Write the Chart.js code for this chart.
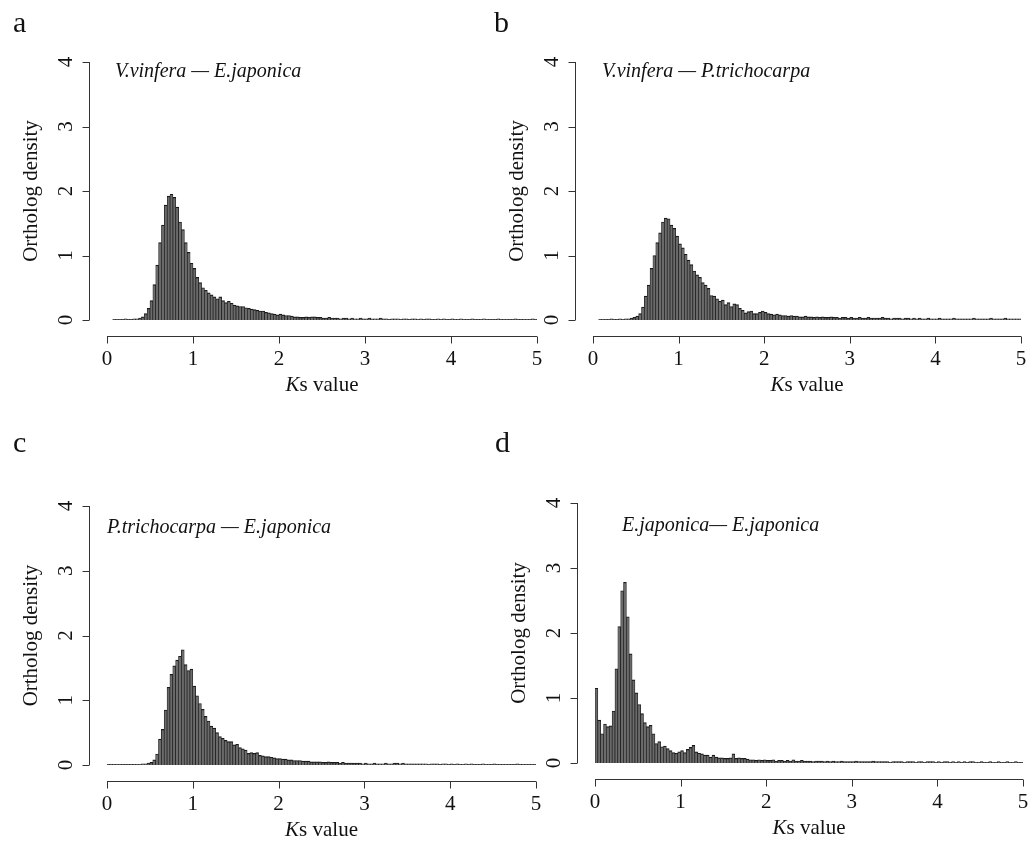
<!DOCTYPE html>
<html>
<head>
<meta charset="utf-8">
<script src="https://cdn.jsdelivr.net/npm/chart.js@4/dist/chart.umd.min.js"></script>
<style>
  body { margin: 0; background: #fff; }
  #wrap { position: relative; width: 1034px; height: 847px; }
  canvas { position: absolute; left: 0; top: 0; }
</style>
</head>
<body>
<div id="wrap">
  <canvas id="pa" width="1034" height="847"></canvas>
  <canvas id="pb" width="1034" height="847"></canvas>
  <canvas id="pc" width="1034" height="847"></canvas>
  <canvas id="pd" width="1034" height="847"></canvas>
</div>
<script>
// histogram bins: 150 bins of width 1/30 from Ks = 0 to 5
const binStart = 0;
const binWidth = 1 / 30;
const xTicks = [0, 1, 2, 3, 4, 5];
const yTicks = [0, 1, 2, 3, 4];

// a: V.vinfera vs E.japonica
const vvEj = [
  0, 0, 0.01, 0.01, 0.01, 0.01, 0.02, 0.01, 0.01, 0.02,
  0.02, 0.03, 0.05, 0.1, 0.18, 0.3, 0.55, 0.85, 1.2, 1.47,
  1.78, 1.92, 1.95, 1.9, 1.75, 1.52, 1.4, 1.2, 1.05, 0.88,
  0.8, 0.66, 0.58, 0.5, 0.46, 0.42, 0.39, 0.36, 0.33, 0.36,
  0.3, 0.27, 0.29, 0.26, 0.23, 0.22, 0.21, 0.21, 0.19, 0.18,
  0.17, 0.16, 0.15, 0.14, 0.14, 0.12, 0.11, 0.1, 0.09, 0.08,
  0.09, 0.08, 0.07, 0.07, 0.06, 0.05, 0.05, 0.04, 0.04, 0.05,
  0.04, 0.05, 0.05, 0.04, 0.04, 0.03, 0.03, 0.04, 0.03, 0.03,
  0.03, 0.02, 0.03, 0.03, 0.02, 0.03, 0.02, 0.02, 0.03, 0.02,
  0.02, 0.03, 0.02, 0.02, 0.02, 0.03, 0.02, 0.02, 0.01, 0.02,
  0.02, 0.02, 0.01, 0.02, 0.02, 0.01, 0.02, 0.02, 0.01, 0.02,
  0.01, 0.02, 0.02, 0.01, 0.01, 0.02, 0.01, 0.02, 0.01, 0.01,
  0.02, 0.01, 0.01, 0.02, 0.01, 0.01, 0.01, 0.02, 0.01, 0.01,
  0.01, 0.02, 0.01, 0.01, 0.01, 0.01, 0.02, 0.01, 0.01, 0.01,
  0.01, 0.01, 0.02, 0.01, 0.01, 0.01, 0.01, 0.01, 0.02, 0.01
];

// b: V.vinfera vs P.trichocarpa
const vvPt = [
  0, 0, 0.01, 0.01, 0.01, 0.01, 0.02, 0.01, 0.01, 0.02,
  0.01, 0.02, 0.02, 0.03, 0.04, 0.06, 0.1, 0.2, 0.37, 0.54,
  0.8, 1.0, 1.2, 1.35, 1.52, 1.58, 1.57, 1.47, 1.42, 1.3,
  1.18, 1.12, 1.02, 0.93, 0.86, 0.76, 0.7, 0.66, 0.58, 0.54,
  0.49, 0.38, 0.37, 0.33, 0.29, 0.31, 0.24, 0.27, 0.21, 0.25,
  0.24, 0.18, 0.15, 0.11, 0.13, 0.14, 0.1, 0.1, 0.12, 0.14,
  0.12, 0.1, 0.09, 0.08, 0.09, 0.08, 0.07, 0.07, 0.06, 0.07,
  0.06, 0.06, 0.05, 0.05, 0.06, 0.05, 0.05, 0.04, 0.05, 0.04,
  0.05, 0.04, 0.04, 0.05, 0.04, 0.04, 0.03, 0.04, 0.04, 0.03,
  0.04, 0.03, 0.03, 0.04, 0.03, 0.03, 0.04, 0.03, 0.03, 0.03,
  0.03, 0.04, 0.03, 0.03, 0.02, 0.03, 0.03, 0.03, 0.02, 0.03,
  0.03, 0.02, 0.03, 0.02, 0.03, 0.02, 0.02, 0.03, 0.02, 0.02,
  0.02, 0.03, 0.02, 0.02, 0.02, 0.02, 0.03, 0.02, 0.02, 0.02,
  0.02, 0.02, 0.02, 0.03, 0.02, 0.02, 0.02, 0.02, 0.02, 0.03,
  0.02, 0.02, 0.02, 0.02, 0.03, 0.02, 0.02, 0.02, 0.02, 0.02
];

// c: P.trichocarpa vs E.japonica
const ptEj = [
  0.01, 0.01, 0.01, 0.01, 0.01, 0.01, 0.01, 0.01, 0.01, 0.01,
  0.01, 0.01, 0.02, 0.02, 0.03, 0.04, 0.08, 0.17, 0.4, 0.55,
  0.85, 1.2, 1.4, 1.53, 1.62, 1.68, 1.78, 1.55, 1.46, 1.48,
  1.22, 1.07, 0.95, 0.86, 0.75, 0.68, 0.6, 0.57, 0.5, 0.44,
  0.41, 0.38, 0.36, 0.36, 0.31, 0.32, 0.27, 0.25, 0.23, 0.18,
  0.19, 0.18, 0.19, 0.15, 0.14, 0.13, 0.13, 0.12, 0.11, 0.1,
  0.1, 0.09, 0.09, 0.08, 0.08, 0.07, 0.07, 0.07, 0.06, 0.06,
  0.06, 0.05, 0.05, 0.05, 0.05, 0.04, 0.04, 0.05, 0.04, 0.04,
  0.04, 0.03, 0.04, 0.03, 0.03, 0.03, 0.03, 0.03, 0.03, 0.02,
  0.03, 0.02, 0.02, 0.03, 0.02, 0.02, 0.02, 0.03, 0.02, 0.02,
  0.03, 0.03, 0.02, 0.03, 0.02, 0.02, 0.02, 0.02, 0.02, 0.02,
  0.02, 0.02, 0.01, 0.02, 0.02, 0.02, 0.01, 0.02, 0.02, 0.01,
  0.02, 0.01, 0.02, 0.01, 0.01, 0.02, 0.01, 0.02, 0.01, 0.01,
  0.01, 0.02, 0.01, 0.01, 0.01, 0.02, 0.01, 0.01, 0.01, 0.01,
  0.01, 0.01, 0.01, 0.02, 0.01, 0.01, 0.01, 0.01, 0.01, 0.01
];

// d: E.japonica vs E.japonica (paralogs)
const ejEj = [
  1.15, 0.66, 0.45, 0.6, 0.56, 0.57, 0.8, 1.45, 2.1, 2.65,
  2.78, 2.25, 1.68, 1.28, 1.08, 0.9, 0.76, 0.62, 0.56, 0.58,
  0.45, 0.3, 0.33, 0.25, 0.26, 0.22, 0.19, 0.16, 0.15, 0.17,
  0.19, 0.16, 0.21, 0.24, 0.27, 0.17, 0.15, 0.14, 0.12, 0.12,
  0.09, 0.12, 0.09, 0.08, 0.08, 0.07, 0.07, 0.08, 0.14, 0.07,
  0.08, 0.07, 0.07, 0.06, 0.05, 0.05, 0.04, 0.05, 0.04, 0.05,
  0.04, 0.04, 0.05, 0.03, 0.04, 0.04, 0.03, 0.04, 0.03, 0.05,
  0.03, 0.03, 0.04, 0.03, 0.03, 0.03, 0.02, 0.03, 0.03, 0.03,
  0.02, 0.03, 0.02, 0.03, 0.02, 0.02, 0.03, 0.02, 0.02, 0.02,
  0.02, 0.03, 0.02, 0.02, 0.02, 0.02, 0.02, 0.03, 0.02, 0.02,
  0.02, 0.02, 0.02, 0.01, 0.02, 0.02, 0.02, 0.02, 0.01, 0.02,
  0.02, 0.02, 0.01, 0.02, 0.02, 0.01, 0.02, 0.02, 0.02, 0.01,
  0.02, 0.01, 0.02, 0.02, 0.01, 0.02, 0.01, 0.02, 0.01, 0.02,
  0.01, 0.02, 0.02, 0.01, 0.01, 0.02, 0.01, 0.01, 0.02, 0.01,
  0.01, 0.02, 0.01, 0.01, 0.02, 0.01, 0.01, 0.02, 0.01, 0.01
];

const SERIF = '"Liberation Serif", "DejaVu Serif", serif';

// layout of each panel on the page (plot area in px)
const panels = [
  { id: "pa", values: vvEj, letter: "a", title: "V.vinfera — E.japonica",
    left: 107, right: 537, top: 62, bottom: 320, lx: 13, ly: 32, tx: 115, ty: 72 },
  { id: "pb", values: vvPt, letter: "b", title: "V.vinfera — P.trichocarpa",
    left: 593, right: 1021, top: 62, bottom: 320, lx: 494, ly: 32, tx: 602, ty: 72 },
  { id: "pc", values: ptEj, letter: "c", title: "P.trichocarpa — E.japonica",
    left: 107, right: 536, top: 506, bottom: 765, lx: 13, ly: 452, tx: 107, ty: 528 },
  { id: "pd", values: ejEj, letter: "d", title: "E.japonica— E.japonica",
    left: 595, right: 1023, top: 503, bottom: 763, lx: 495, ly: 452, tx: 622, ty: 526 }
];

// R-style detached axes, labels and panel letter
function rAxes(p) {
  return {
    id: "rAxes",
    afterDraw(chart) {
      const ctx = chart.ctx;
      const xs = chart.scales.x, ys = chart.scales.y;
      const y0 = ys.getPixelForValue(0);
      const x0 = xs.getPixelForValue(0);
      const axY = Math.round(y0 + 16) + 0.5;
      const axX = Math.round(x0 - 18) + 0.5;
      ctx.save();
      ctx.strokeStyle = "#333";
      ctx.lineWidth = 1;
      ctx.fillStyle = "#111";

      // x axis
      ctx.beginPath();
      ctx.moveTo(xs.getPixelForValue(xTicks[0]), axY);
      ctx.lineTo(xs.getPixelForValue(xTicks[xTicks.length - 1]), axY);
      xTicks.forEach(t => {
        const px = Math.round(xs.getPixelForValue(t)) + 0.5;
        ctx.moveTo(px, axY);
        ctx.lineTo(px, axY + 7);
      });
      ctx.stroke();
      ctx.font = "21px " + SERIF;
      ctx.textAlign = "center";
      ctx.textBaseline = "middle";
      xTicks.forEach(t => ctx.fillText(String(t), xs.getPixelForValue(t), axY + 23));

      // y axis
      ctx.beginPath();
      ctx.moveTo(axX, ys.getPixelForValue(yTicks[0]));
      ctx.lineTo(axX, ys.getPixelForValue(yTicks[yTicks.length - 1]));
      yTicks.forEach(t => {
        const py = Math.round(ys.getPixelForValue(t)) + 0.5;
        ctx.moveTo(axX, py);
        ctx.lineTo(axX - 7, py);
      });
      ctx.stroke();
      yTicks.forEach(t => {
        ctx.save();
        ctx.translate(axX - 23, ys.getPixelForValue(t));
        ctx.rotate(-Math.PI / 2);
        ctx.fillText(String(t), 0, 0);
        ctx.restore();
      });

      // y title
      ctx.save();
      ctx.font = "21px " + SERIF;
      ctx.translate(axX - 58, (ys.getPixelForValue(0) + ys.getPixelForValue(4)) / 2);
      ctx.rotate(-Math.PI / 2);
      ctx.fillText("Ortholog density", 0, 0);
      ctx.restore();

      // x title: italic K + "s value"
      const cx = (xs.getPixelForValue(0) + xs.getPixelForValue(5)) / 2;
      ctx.font = "italic 21px " + SERIF;
      const wK = ctx.measureText("K").width;
      ctx.font = "21px " + SERIF;
      const wR = ctx.measureText("s value").width;
      const sx = cx - (wK + wR) / 2;
      ctx.textAlign = "left";
      ctx.font = "italic 21px " + SERIF;
      ctx.fillText("K", sx, axY + 49);
      ctx.font = "21px " + SERIF;
      ctx.fillText("s value", sx + wK, axY + 49);

      // panel title
      ctx.font = "italic 20px " + SERIF;
      ctx.fillText(p.title, p.tx, p.ty);

      // panel letter
      ctx.font = "30px " + SERIF;
      ctx.textBaseline = "alphabetic";
      ctx.fillText(p.letter, p.lx, p.ly);
      ctx.restore();
    }
  };
}

panels.forEach(p => {
  const points = p.values.map((v, i) => ({ x: binStart + (i + 0.5) * binWidth, y: v }));
  new Chart(document.getElementById(p.id), {
    type: "bar",
    data: {
      datasets: [{
        data: points,
        backgroundColor: "#6b6b6b",
        borderColor: "#1a1a1a",
        borderWidth: { top: 1.2, left: 0.7, right: 0.7, bottom: 0 },
        borderSkipped: "bottom",
        barPercentage: 1,
        categoryPercentage: 1
      }]
    },
    options: {
      responsive: false,
      animation: false,
      devicePixelRatio: 1,
      layout: {
        padding: { left: p.left, right: 1034 - p.right, top: p.top, bottom: 847 - p.bottom }
      },
      plugins: { legend: { display: false }, tooltip: { enabled: false } },
      events: [],
      scales: {
        x: { type: "linear", min: 0, max: 5, offset: false, display: false },
        y: { min: 0, max: 4, display: false }
      }
    },
    plugins: [rAxes(p)]
  });
});
</script>
</body>
</html>
